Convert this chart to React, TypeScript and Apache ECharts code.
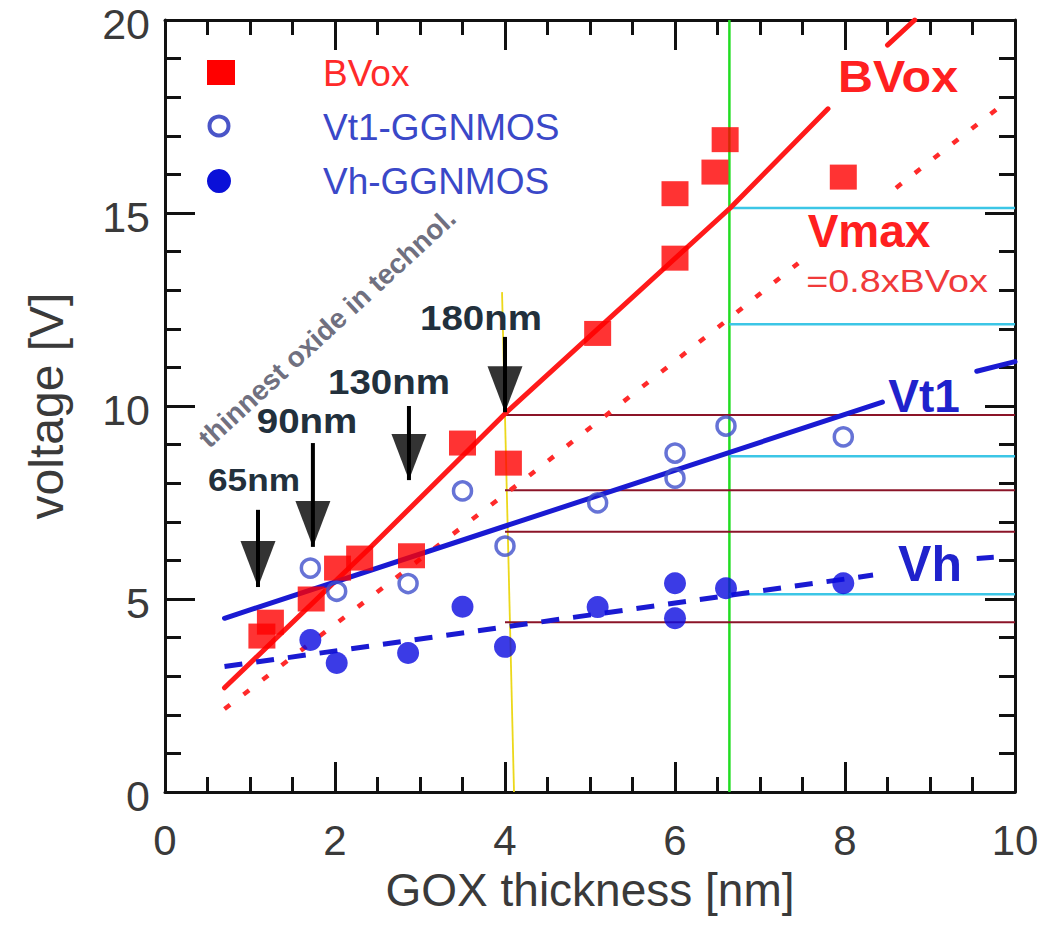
import React, { useEffect, useRef } from 'react';
import * as echarts from 'echarts';

// ---- measured data ----
const bvoxX = [1.14, 1.24, 1.72, 2.03, 2.29, 2.9, 3.5, 4.04, 5.09, 6.0, 6.0, 6.47, 6.59, 7.98];
const bvoxY = [4.04, 4.4, 5.0, 5.8, 6.06, 6.12, 9.04, 8.52, 11.88, 13.83, 15.5, 16.06, 16.9, 15.93];
const vt1X = [1.71, 2.02, 2.86, 3.5, 4.0, 5.09, 6.0, 6.0, 6.6, 7.98];
const vt1Y = [5.8, 5.2, 5.4, 7.8, 6.37, 7.49, 8.13, 8.78, 9.48, 9.2];
const vhX = [1.71, 2.02, 2.86, 3.5, 4.0, 5.09, 6.0, 6.0, 6.6, 7.98];
const vhY = [3.94, 3.34, 3.6, 4.8, 3.76, 4.79, 5.41, 4.5, 5.28, 5.41];

// ---- trend lines (segments, broken where labels sit) ----
const bvoxFitA = [[0.7, 2.7], [2.4, 6.3], [4.0, 9.8], [6.65, 15.13], [7.8, 17.7]];
const bvoxFitB = [[8.5, 19.35], [8.82, 20]];
const vmaxFitA = [[0.7, 2.15], [4.27, 8.17], [6.57, 12.15], [7.45, 13.7]];
const vmaxFitB = [[8.6, 15.65], [9.82, 17.75]];
const vt1FitA = [[0.7, 4.5], [8.44, 10.1]];
const vt1FitB = [[9.55, 10.9], [10, 11.15]];
const vhFitA = [[0.7, 3.25], [8.33, 5.62]];
const vhFitB = [[9.55, 6.05], [9.75, 6.08]];

// ---- technology-node arrows ----
const nodeLabels = ['65nm', '90nm', '130nm', '180nm'];
const nodeX = [1.094, 1.74, 2.87, 4.0];
const nodeTopY = [7.31, 9.04, 10.0, 11.79];
const nodeTipY = [5.31, 6.35, 8.08, 9.84];

// ---- guide lines ----
const yellowGuide = [[3.965, 12.95], [4.106, 0]];
const greenGuideX = 6.64;
const maroonLevels = [9.77, 7.82, 6.74, 4.4];
const maroonFromX = 4.0;
const cyanLevels = [15.13, 12.12, 8.7, 5.12];

// ---- ticks ----
const xMin = 0, xMax = 10, xStep = 2;
const yMin = 0, yMax = 20, yStep = 5;

const FONT = '"Liberation Sans", Arial, Helvetica, sans-serif';

function seg(data: number[][], color: string, width: number, type: any = 'solid', z = 2, cap = 'butt') {
  return {
    type: 'line',
    data,
    symbol: 'none',
    silent: true,
    z,
    lineStyle: { color, width, type, cap },
  };
}

function txt(text: string, x: number, y: number, size: number, fill: string, bold: boolean, extra: any = {}) {
  return {
    type: 'text',
    x,
    y,
    silent: true,
    z: 50,
    ...extra,
    style: {
      text,
      fill,
      font: `${bold ? 'bold ' : ''}${size}px ${FONT}`,
      textAlign: extra.align || 'center',
      textVerticalAlign: 'middle',
      align: extra.align || 'center',
      verticalAlign: 'middle',
    },
  };
}

export default function App() {
  const ref = useRef<HTMLDivElement>(null);

  useEffect(() => {
    if (!ref.current) return;
    const chart = echarts.init(ref.current, null, { renderer: 'svg' });

    const axisCommon = {
      type: 'value',
      axisLine: { show: true, onZero: false, lineStyle: { color: '#111', width: 3 } },
      axisTick: { show: true, inside: true, length: 30, lineStyle: { color: '#111', width: 3 } },
      splitLine: { show: false },
    };

    const series: any[] = [];

    // guides
    series.push(seg(yellowGuide, '#ecd81a', 1.8, 'solid', 1));
    series.push(seg([[greenGuideX, yMin], [greenGuideX, yMax]], '#22dd22', 2.5, 'solid', 1));
    maroonLevels.forEach((l) => series.push(seg([[maroonFromX, l], [xMax, l]], '#8b1428', 2, 'solid', 1)));
    cyanLevels.forEach((l) => series.push(seg([[greenGuideX, l], [xMax, l]], '#3cc6e6', 2.5, 'solid', 1)));

    // fits
    series.push(seg(bvoxFitA, '#ff1a1a', 5, 'solid', 3, 'round'));
    series.push(seg(bvoxFitB, '#ff1a1a', 5, 'solid', 3, 'round'));
    series.push(seg(vmaxFitA, '#ff2a2a', 4.5, [7, 17], 3));
    series.push(seg(vmaxFitB, '#ff2a2a', 4.5, [7, 17], 3));
    series.push(seg(vt1FitA, '#1a1ad2', 5, 'solid', 3, 'round'));
    series.push(seg(vt1FitB, '#1a1ad2', 5, 'solid', 3, 'round'));
    series.push(seg(vhFitA, '#1a1ad2', 5, [18, 14], 3));
    series.push(seg(vhFitB, '#1a1ad2', 5, 'solid', 3));

    // data markers
    series.push({
      name: 'BVox', type: 'scatter', symbol: 'rect', symbolSize: [27, 25], z: 5,
      itemStyle: { color: '#ff0000' },
      data: bvoxX.map((x, i) => [x, bvoxY[i]]),
    });
    series.push({
      name: 'Vt1-GGNMOS', type: 'scatter', symbol: 'circle', symbolSize: 18, z: 5,
      itemStyle: { color: 'rgba(0,0,0,0)', borderColor: '#4050cc', borderWidth: 3.5 },
      data: vt1X.map((x, i) => [x, vt1Y[i]]),
    });
    series.push({
      name: 'Vh-GGNMOS', type: 'scatter', symbol: 'circle', symbolSize: 22, z: 5,
      itemStyle: { color: '#0a0ae0' },
      data: vhX.map((x, i) => [x, vhY[i]]),
    });

    // arrows
    nodeX.forEach((x, i) => {
      series.push(seg([[x, nodeTopY[i]], [x, nodeTipY[i]]], '#000', 4, 'solid', 6));
    });
    series.push({
      type: 'scatter', symbol: 'triangle', symbolRotate: 180, symbolSize: [35, 46],
      symbolOffset: [0, -23], z: 6, silent: true,
      itemStyle: { color: '#000' },
      data: nodeX.map((x, i) => [x, nodeTipY[i]]),
    });

    const graphic: any[] = [
      // legend
      { type: 'rect', shape: { x: 207, y: 60, width: 28, height: 25 }, style: { fill: '#ff0000' }, z: 50 },
      { type: 'circle', shape: { cx: 219, cy: 126, r: 9.5 }, style: { fill: '#fff', stroke: '#4a55c8', lineWidth: 4 }, z: 50 },
      { type: 'circle', shape: { cx: 219, cy: 181, r: 12 }, style: { fill: '#0a10d8' }, z: 50 },
      txt('BVox', 323, 73, 37, '#ff2a2a', false, { align: 'left' }),
      txt('Vt1-GGNMOS', 323, 127, 37, '#3a48c8', false, { align: 'left' }),
      txt('Vh-GGNMOS', 323, 181, 37, '#3a48c8', false, { align: 'left' }),
      // curve labels
      txt('BVox', 898, 77, 44, '#ff2020', true, { scaleX: 1.1 }),
      txt('Vmax', 869, 231, 46, '#ff2020', true),
      txt('=0.8xBVox', 897, 281, 32, '#f03a3a', false, { scaleX: 1.18 }),
      txt('Vt1', 924, 396, 46, '#1f22cc', true),
      txt('Vh', 930, 564, 50, '#1f22cc', true),
      // node labels
      txt(nodeLabels[0], 254, 480, 32, '#22303c', true, { scaleX: 1.1 }),
      txt(nodeLabels[1], 307, 421, 35, '#22303c', true, { scaleX: 1.1 }),
      txt(nodeLabels[2], 389, 382, 35, '#22303c', true, { scaleX: 1.1 }),
      txt(nodeLabels[3], 481, 318, 35, '#22303c', true, { scaleX: 1.1 }),
      // rotated note
      txt('thinnest oxide in technol.', 327, 328, 28, '#707080', true, { rotation: 0.744 }),
    ];

    chart.setOption({
      animation: false,
      backgroundColor: '#ffffff',
      grid: { left: 165, top: 20, width: 850, height: 772, containLabel: false, outerBoundsMode: 'none' },
      xAxis: [
        {
          ...axisCommon,
          position: 'bottom',
          min: xMin, max: xMax, interval: xStep,
          minorTick: { show: true, splitNumber: 4, length: 15, lineStyle: { color: '#111', width: 3 } },
          axisLabel: { margin: 33, fontSize: 42, lineHeight: 30, color: '#3a3a3a', fontFamily: FONT },
          name: 'GOX thickness [nm]', nameLocation: 'middle', nameGap: 80, nameMoveOverlap: false,
          nameTextStyle: { fontSize: 46, lineHeight: 36, color: '#3a3a3a', fontFamily: FONT },
        },
        {
          ...axisCommon,
          position: 'top',
          min: xMin, max: xMax, interval: xStep,
          minorTick: { show: true, splitNumber: 4, length: 15, lineStyle: { color: '#111', width: 3 } },
          axisLabel: { show: false },
        },
      ],
      yAxis: [
        {
          ...axisCommon,
          position: 'left',
          min: yMin, max: yMax, interval: yStep,
          minorTick: { show: true, splitNumber: 5, length: 16, lineStyle: { color: '#111', width: 3 } },
          axisLabel: {
            margin: 15, fontSize: 43, lineHeight: 8, verticalAlign: 'top',
            color: '#3a3a3a', fontFamily: FONT,
          },
          name: 'voltage [V]', nameLocation: 'middle', nameGap: 95, nameMoveOverlap: false,
          nameTextStyle: { fontSize: 48, color: '#3a3a3a', fontFamily: FONT },
        },
        {
          ...axisCommon,
          position: 'right',
          min: yMin, max: yMax, interval: yStep,
          minorTick: { show: true, splitNumber: 5, length: 16, lineStyle: { color: '#111', width: 3 } },
          axisLabel: { show: false },
        },
      ],
      series,
      graphic,
    });

    return () => chart.dispose();
  }, []);

  return (
    <div
      ref={ref}
      style={{ position: 'absolute', left: 0, top: 0, width: 1051, height: 934, background: '#fff' }}
    />
  );
}
